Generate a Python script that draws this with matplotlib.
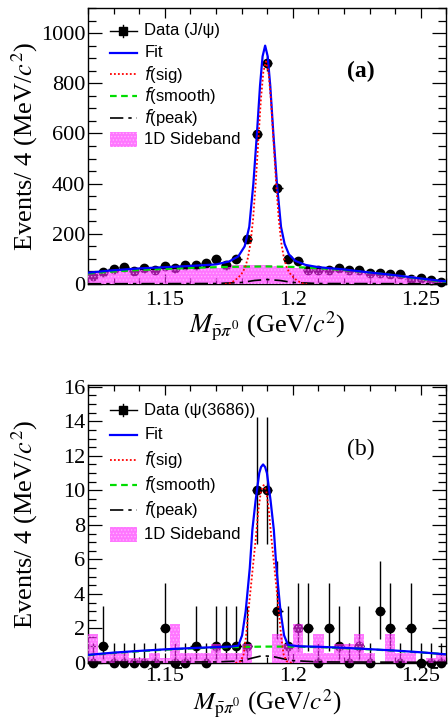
import numpy as np
import matplotlib
matplotlib.use('Agg')
import matplotlib.pyplot as plt
from matplotlib.ticker import MultipleLocator
from matplotlib.patches import Rectangle

plt.rcParams['font.family'] = ['Liberation Serif', 'DejaVu Serif']
plt.rcParams['mathtext.fontset'] = 'stix'
plt.rcParams['hatch.linewidth'] = 0.6

# binning: 35 bins of 4 MeV/c^2 from 1.12 to 1.26 GeV/c^2
bin_edges = np.linspace(1.12, 1.26, 36)
bin_centers = 0.5 * (bin_edges[:-1] + bin_edges[1:])

# ---- (a) J/psi ----
jpsi_counts = [31, 48, 58, 67, 52, 65, 55, 73, 64, 74, 75, 85, 98, 76, 98,
               181, 596, 880, 382, 101, 92, 57, 54, 55, 62, 54, 57, 43, 43,
               38, 38, 21, 23, 17, 7]
jpsi_sideband = [47, 50, 55, 55, 56, 55, 57, 58, 58, 60, 60, 62, 62, 67, 77,
                 77, 77, 77, 72, 66, 63, 61, 59, 58, 57, 55, 52, 48, 44,
                 40, 36, 30, 25, 20, 14]
jpsi_fit_x = [1.1200, 1.1300, 1.1400, 1.1500, 1.1600, 1.1700, 1.1752, 1.1787,
              1.1812, 1.1830, 1.1846, 1.1860, 1.1872, 1.1882, 1.1892, 1.1902,
              1.1912, 1.1924, 1.1938, 1.1954, 1.1968, 1.1985, 1.2010, 1.2050,
              1.2100, 1.2200, 1.2300, 1.2400, 1.2500, 1.2600]
jpsi_fit_y = [45, 55, 62, 67, 72, 78, 90, 110, 150, 228, 400, 600, 790, 907,
              950, 907, 790, 600, 400, 228, 160, 118, 92, 76, 67, 58, 46, 35,
              22, 10]
jpsi_sig_x = [1.1735, 1.1755, 1.1775, 1.1795, 1.1805, 1.1815, 1.1825, 1.1835,
              1.1845, 1.1855, 1.1865, 1.1875, 1.1885, 1.1895, 1.1905, 1.1915,
              1.1925, 1.1935, 1.1945, 1.1955, 1.1965, 1.1975, 1.1985, 1.1995,
              1.2015, 1.2035, 1.2055]
jpsi_sig_y = [0, 3, 15, 34, 48, 70, 105, 165, 260, 400, 565, 730, 845, 887,
              845, 730, 565, 400, 260, 165, 105, 70, 48, 34, 15, 3, 0]
jpsi_smooth_x = [1.12, 1.13, 1.14, 1.15, 1.16, 1.17, 1.18, 1.19, 1.20, 1.21,
                 1.22, 1.23, 1.24, 1.25, 1.26]
jpsi_smooth_y = [42, 50, 56, 60, 64, 67, 69, 70, 68, 63, 56, 46, 34, 21, 8]
jpsi_peak_x = [1.12, 1.17, 1.18, 1.185, 1.19, 1.195, 1.20, 1.21, 1.26]
jpsi_peak_y = [1, 2, 6, 14, 18, 14, 6, 2, 1]

# ---- (b) psi(3686) ----
psip_counts = [0, 1, 0, 0, 0, 0, 0, 2, 0, 0, 1, 0, 1, 1, 1, 1, 10, 10, 3, 1,
               2, 2, 0, 2, 1, 0, 1, 0, 3, 2, 0, 2, 0, 0, 0]
psip_sideband = [1.69, 0.56, 0.56, 0.56, 0.28, 0.28, 0.56, 0.28, 2.25, 0.56,
                 0.56, 0.56, 1.12, 0.56, 0.56, 1.12, 0.0, 0.0, 1.69, 1.12,
                 2.25, 0.56, 1.69, 0.56, 1.12, 1.12, 1.69, 0.56, 0.0, 1.69,
                 0.56, 0.56, 0.0, 0.28, 0.56]
# Poisson (68%) lower / upper errors for the small counts
poisson_err = {0: (0.0, 1.15), 1: (0.83, 2.30), 2: (1.29, 2.64),
               3: (1.63, 2.92), 10: (3.11, 4.26)}
psip_fit_x = [1.120, 1.130, 1.140, 1.150, 1.160, 1.170, 1.176, 1.1787, 1.1802,
              1.1816, 1.1832, 1.1842, 1.1855, 1.1869, 1.1876, 1.1884, 1.1892,
              1.1899, 1.1913, 1.1926, 1.1936, 1.1952, 1.1966, 1.1981, 1.2020,
              1.210, 1.220, 1.230, 1.240, 1.250, 1.260]
psip_fit_y = [0.47, 0.6, 0.7, 0.79, 0.86, 0.92, 0.95, 1.0, 1.6, 3.0, 5.5, 7.7,
              9.44, 11.0, 11.35, 11.5, 11.35, 11.0, 9.44, 7.7, 5.5, 3.0, 1.6,
              1.05, 0.97, 0.94, 0.88, 0.8, 0.72, 0.62, 0.5]
psip_sig_x = [1.1776, 1.1796, 1.1808, 1.1817, 1.1830, 1.1843, 1.1856, 1.1866,
              1.1876, 1.1886, 1.1896, 1.1906, 1.1916, 1.1929, 1.1942, 1.1955,
              1.1964, 1.1976, 1.1996]
psip_sig_y = [0, 0.1, 0.5, 1.5, 3.5, 5.4, 7.3, 8.9, 10.0, 10.3, 10.0, 8.9, 7.3,
              5.4, 3.5, 1.5, 0.5, 0.1, 0]
psip_smooth_x = [1.12, 1.13, 1.14, 1.15, 1.16, 1.17, 1.18, 1.19, 1.20, 1.21,
                 1.22, 1.23, 1.24, 1.25, 1.26]
psip_smooth_y = [0.45, 0.58, 0.68, 0.77, 0.84, 0.9, 0.93, 0.95, 0.95, 0.92,
                 0.86, 0.79, 0.71, 0.61, 0.5]
psip_peak_x = [1.12, 1.17, 1.18, 1.184, 1.188, 1.192, 1.196, 1.20, 1.21, 1.26]
psip_peak_y = [0.05, 0.06, 0.12, 0.28, 0.42, 0.38, 0.25, 0.14, 0.06, 0.04]

sb_color = '#ff22ff'
sb_alpha = 0.62
sb_hatch_col = '#ffd0ff'
fit_style = dict(color='#0000ff', lw=1.6)
sig_style = dict(color='#ff0000', ls=(0, (1, 1.2)), lw=1.3)
smooth_style = dict(color='#00dd00', ls=(0, (3, 2)), lw=1.6)
peak_style = dict(color='k', ls=(0, (8, 3, 2, 3)), lw=1.2)


def draw_legend(ax, data_label, y_top, pitch):
    # hand-made legend, positions in axes fraction
    x0, x1, xt = 0.061, 0.137, 0.157
    xm = 0.5 * (x0 + x1)
    tr = ax.transAxes
    ys = [y_top - i * pitch for i in range(6)]
    # data entry: square marker with error bars
    ax.plot([x0, x1], [ys[0], ys[0]], color='k', lw=1.0, transform=tr)
    ax.plot([xm, xm], [ys[0] - 0.022, ys[0] + 0.022], color='k', lw=1.0,
            transform=tr)
    ax.plot([xm], [ys[0]], marker='s', ms=5.5, color='k', transform=tr)
    ax.plot([x0, x1], [ys[1]] * 2, transform=tr, **fit_style)
    ax.plot([x0, x1], [ys[2]] * 2, transform=tr, **sig_style)
    ax.plot([x0, x1], [ys[3]] * 2, transform=tr, **smooth_style)
    ax.plot([x0, x1], [ys[4]] * 2, transform=tr, **peak_style)
    ax.add_patch(Rectangle((x0, ys[5] - 0.027), x1 - x0, 0.054, transform=tr,
                           facecolor=sb_color, alpha=sb_alpha, hatch='.....',
                           edgecolor=sb_hatch_col, linewidth=0))
    labels = [data_label, 'Fit', '$f$(sig)', '$f$(smooth)', '$f$(peak)',
              '1D Sideband']
    for y, lab in zip(ys, labels):
        t = ax.text(xt, y, lab, transform=tr, fontsize=12, va='center',
                    ha='left', family=['Liberation Sans', 'DejaVu Sans'])
        t.set_math_fontfamily('dejavusans')


def draw_panel(ax, counts, yerr, sideband, fit, sig, smooth, peak,
               data_label, ymax, ymajor, yminor, tag, tag_weight,
               leg_top, leg_pitch, xlab_y, xpad, xlab_size):
    ax.errorbar(bin_centers, counts, xerr=0.002, yerr=yerr, fmt='o', color='k',
                ms=6, elinewidth=1.0, capsize=0, zorder=2, clip_on=False)
    ax.stairs(sideband, bin_edges, fill=True, facecolor=sb_color, alpha=sb_alpha,
              hatch='.....', edgecolor=sb_hatch_col, linewidth=0, zorder=3)
    ax.plot(smooth[0], smooth[1], zorder=4, **smooth_style)
    ax.plot(peak[0], peak[1], zorder=4, **peak_style)
    ax.plot(fit[0], fit[1], zorder=5, **fit_style)
    ax.plot(sig[0], sig[1], zorder=6, **sig_style)

    ax.set_xlim(1.12, 1.26)
    ax.set_ylim(0, ymax)
    ax.xaxis.set_minor_locator(MultipleLocator(0.01))
    ax.yaxis.set_major_locator(MultipleLocator(ymajor))
    ax.yaxis.set_minor_locator(MultipleLocator(yminor))
    ax.set_xticks([1.15, 1.2, 1.25])
    ax.set_xticklabels(['1.15', '1.2', '1.25'])
    ax.tick_params(axis='both', which='both', direction='in', top=True,
                   right=True, labelsize=16, width=0.9)
    ax.tick_params(axis='x', which='major', length=7, pad=xpad)
    ax.tick_params(axis='x', which='minor', length=4)
    ax.tick_params(axis='y', which='major', length=10, pad=2)
    ax.tick_params(axis='y', which='minor', length=6)
    for s in ax.spines.values():
        s.set_linewidth(1.0)

    ax.set_xlabel(r'$M_{\bar{\mathrm{p}}\pi^{0}}$ (GeV/$c^{2}$)',
                  fontsize=xlab_size)
    ax.set_ylabel(r'Events/ 4 (MeV/$c^{2}$)', fontsize=19)
    ax.yaxis.set_label_coords(-0.135, 0.5)
    ax.xaxis.set_label_coords(0.5, xlab_y)

    ax.text(0.76, 0.77, tag, transform=ax.transAxes, fontsize=17,
            fontweight=tag_weight, ha='center', va='center')
    draw_legend(ax, data_label, leg_top, leg_pitch)


fig = plt.figure(figsize=(4.48, 7.19), dpi=100)
ax1 = fig.add_axes([0.1964, 0.605, 0.8000, 0.3839])
ax2 = fig.add_axes([0.1964, 0.0779, 0.8000, 0.3866])

jpsi_err = np.sqrt(jpsi_counts)
draw_panel(ax1, jpsi_counts, jpsi_err, jpsi_sideband,
           (jpsi_fit_x, jpsi_fit_y), (jpsi_sig_x, jpsi_sig_y),
           (jpsi_smooth_x, jpsi_smooth_y), (jpsi_peak_x, jpsi_peak_y),
           'Data (J/\u03c8)', 1100, 200, 50, '(a)', 'bold',
           0.917, 0.0786, -0.093, 5, 19)

psip_lo = [poisson_err[n][0] for n in psip_counts]
psip_hi = [poisson_err[n][1] for n in psip_counts]
draw_panel(ax2, psip_counts, [psip_lo, psip_hi], psip_sideband,
           (psip_fit_x, psip_fit_y), (psip_sig_x, psip_sig_y),
           (psip_smooth_x, psip_smooth_y), (psip_peak_x, psip_peak_y),
           'Data (\u03c8(3686))', 16.1, 2, 0.5, '(b)', 'normal',
           0.910, 0.0896, -0.085, 3, 18)

fig.savefig('out.png', dpi=100)
